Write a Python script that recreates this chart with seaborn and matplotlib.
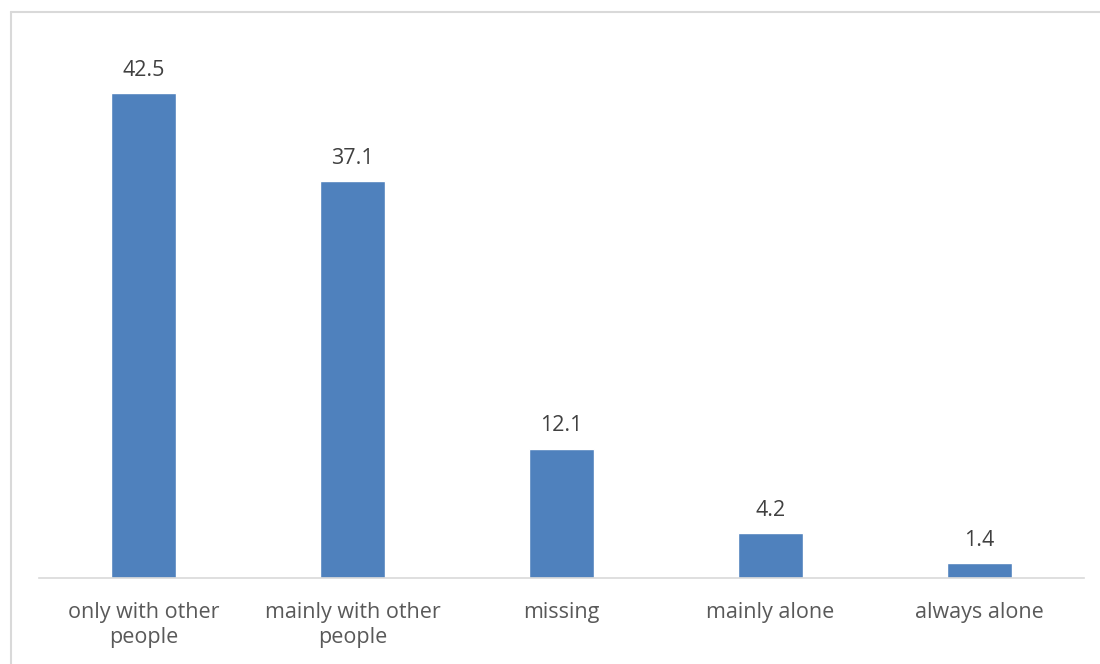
import matplotlib
matplotlib.use("Agg")
import matplotlib.pyplot as plt
import seaborn as sns
import pandas as pd
from matplotlib.lines import Line2D

categories = ["only with other\npeople", "mainly with other\npeople", "missing", "mainly alone", "always alone"]
# bar heights as drawn in the picture (the first bar is drawn taller than its label)
bar_heights = [45.3, 37.1, 12.1, 4.2, 1.4]
labels = ["42.5", "37.1", "12.1", "4.2", "1.4"]

sns.set_theme(style="white")
plt.rcParams['font.family'] = ['Open Sans', 'DejaVu Sans']

df = pd.DataFrame({"cat": categories, "val": bar_heights})

fig = plt.figure(figsize=(11, 6.64), dpi=100)
W, H = 1100, 664
ax = fig.add_axes([39 / W, (H - 578) / H, (1084 - 39) / W, (578 - 64.5) / H])
sns.barplot(data=df, x="cat", y="val", color="#4F81BD", saturation=1, width=0.31, ax=ax)

ax.set_ylim(0, 48)
ax.set_xlim(-0.5, 4.5)
ax.set_xlabel("")
ax.set_ylabel("")
ax.set_yticks([])
for s in ["top", "right", "left"]:
    ax.spines[s].set_visible(False)
ax.spines["bottom"].set_color("#D9D9D9")
ax.spines["bottom"].set_linewidth(1.2)
ax.tick_params(axis="x", length=0, pad=17, labelsize=15.5, labelcolor="#595959")
for t in ax.get_xticklabels():
    t.set_linespacing(1.3)

for i, (v, lab) in enumerate(zip(bar_heights, labels)):
    ax.annotate(lab, (i, v), xytext=(0, 9), textcoords="offset points",
                ha="center", va="bottom", fontsize=15.5, color="#404040")

# chart border (Excel-style frame)
fig.add_artist(Line2D([11 / W, 11 / W], [0, (H - 12) / H], color="#D9D9D9", lw=1.5, transform=fig.transFigure))
fig.add_artist(Line2D([11 / W, 1], [(H - 12) / H, (H - 12) / H], color="#D9D9D9", lw=1.5, transform=fig.transFigure))

fig.savefig("out.png", dpi=100, facecolor="white")
